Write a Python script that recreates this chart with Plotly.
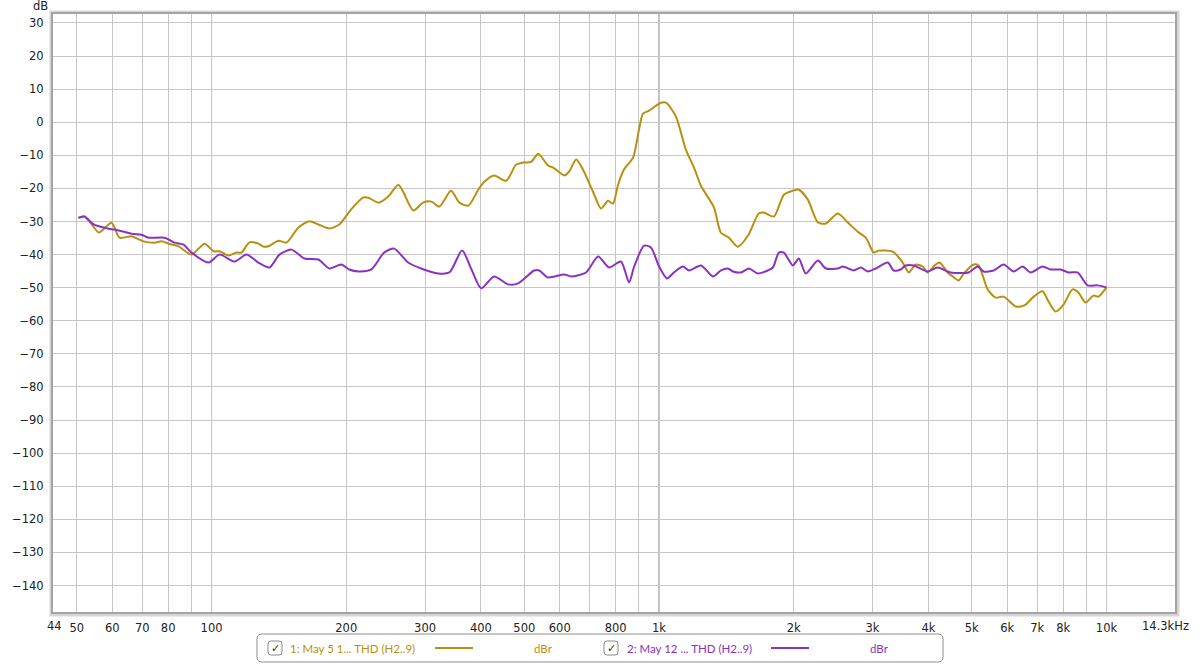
import math
import plotly.graph_objects as go

# ---------------- data ----------------
gold_freq = [50.4, 52, 54, 56, 59.8, 62.3, 66.3, 70.5, 74.6, 77.3, 80.2, 84.4, 90.2, 96.5, 101, 104.2,
             109, 113.7, 116.6, 121.6, 127.3, 130.6, 134, 141, 147, 156.4, 165.4, 173.3, 183.4, 193,
             205, 218, 224, 236, 248, 261.5, 268, 282.5, 297, 310, 323, 343, 358, 375, 394.5, 407,
             428, 455.5, 479.5, 497, 518, 537, 565, 580, 614, 630, 653, 676, 712, 742, 769, 789, 810,
             835, 875, 902, 921, 950, 1010, 1037, 1091, 1148, 1197, 1241, 1327, 1375, 1433, 1500,
             1580, 1671, 1715, 1806, 1901, 1991, 2053, 2151, 2265, 2360, 2509, 2642, 2780, 2898,
             3020, 3097, 3329, 3504, 3614, 3747, 3882, 3985, 4150, 4237, 4415, 4531, 4673, 4820,
             5048, 5179, 5425, 5653, 5889, 6266, 6427, 6595, 6839, 7195, 7422, 7691, 8017, 8396,
             8660, 8977, 9354, 9593, 10000]
gold_db = [-28.9, -28.5, -30.9, -33.3, -30.4, -34.9, -34.5, -36.0, -36.4, -36.0, -36.7, -37.5, -40.0,
           -36.7, -39.0, -39.0, -40.3, -39.4, -39.4, -36.3, -36.7, -37.6, -37.5, -35.8, -36.4, -31.8,
           -29.9, -30.9, -32.1, -30.9, -26.4, -22.8, -22.8, -24.3, -22.5, -18.9, -21.0, -26.7, -24.3,
           -24.0, -25.5, -20.7, -24.3, -25.2, -20.4, -18.0, -16.1, -17.7, -12.8, -12.2, -12.0, -9.5,
           -13.1, -13.7, -16.1, -14.9, -11.3, -14.3, -21.0, -26.1, -23.7, -24.6, -18.9, -14.3, -10.7,
           -2.3, 2.6, 3.5, 5.9, 5.9, 1.7, -8.3, -13.7, -19.2, -25.8, -33.4, -34.9, -37.6, -34.3,
           -27.6, -27.3, -28.5, -21.9, -20.7, -20.4, -23.4, -30.3, -30.6, -27.6, -30.3, -33.1, -34.9,
           -39.4, -38.8, -39.1, -42.4, -45.4, -43.0, -43.6, -45.4, -43.0, -42.4, -45.4, -46.6, -47.8,
           -45.4, -43.0, -43.3, -50.5, -53.0, -52.7, -55.7, -55.7, -55.1, -53.0, -51.1, -54.2, -57.2,
           -55.1, -50.5, -51.5, -54.5, -52.4, -52.7, -49.9]

purple_freq = [50.4, 52, 54.5, 58.6, 62, 66.3, 69.8, 72.3, 78.5, 82.7, 86.6, 90.2, 98.5, 104.2, 112.6,
               119.7, 127.3, 134.7, 141.8, 150.8, 161.3, 173.3, 183.4, 195, 203, 213, 227.5, 243, 256,
               275, 294, 321, 340, 363, 381, 400.6, 428, 460, 484.5, 526, 540, 565, 614, 636, 687, 731,
               773, 822, 857, 880, 926, 960, 1000, 1042, 1080, 1131, 1167, 1241, 1320, 1375, 1426, 1463,
               1524, 1589, 1663, 1750, 1797, 1853, 1901, 1991, 2053, 2128, 2265, 2360, 2509, 2574, 2723,
               2825, 2928, 3051, 3245, 3346, 3468, 3559, 3708, 3985, 4196, 4484, 4920, 5152, 5314, 5596,
               5889, 6200, 6494, 6767, 7195, 7499, 7894, 8226, 8617, 9070, 9549, 10000]
purple_db = [-28.9, -28.5, -30.9, -32.1, -32.7, -33.7, -34.0, -34.9, -34.9, -36.4, -37.0, -39.4, -42.4,
             -40.0, -42.1, -40.0, -42.4, -43.9, -40.0, -38.5, -41.2, -41.5, -44.2, -43.0, -44.5, -45.1,
             -44.5, -39.4, -38.2, -42.4, -44.2, -45.7, -45.4, -38.8, -44.5, -50.2, -46.6, -49.0, -48.7,
             -44.8, -44.8, -46.9, -46.0, -46.6, -45.4, -40.6, -43.9, -42.1, -48.4, -43.6, -37.3, -37.9,
             -43.6, -47.2, -45.4, -43.6, -44.8, -43.3, -46.6, -44.8, -44.2, -45.1, -45.4, -44.2, -45.7,
             -44.8, -43.9, -39.4, -39.4, -43.3, -41.2, -45.7, -41.8, -44.2, -44.2, -43.6, -44.8, -43.9,
             -45.1, -44.2, -42.4, -44.8, -44.5, -43.3, -43.3, -45.1, -43.9, -45.4, -45.4, -43.6, -45.1,
             -44.8, -43.0, -45.1, -43.6, -45.4, -43.6, -44.5, -44.5, -45.4, -45.4, -49.3, -49.3, -49.9]

series_names = ["1: May 5 1... THD (H2..9)", "2: May 12 ... THD (H2..9)"]
series_units = ["dBr", "dBr"]

grid_freqs = [50, 60, 70, 80, 90, 100, 200, 300, 400, 500, 600, 700, 800, 900,
              1000, 2000, 3000, 4000, 5000, 6000, 7000, 8000, 9000, 10000]
grid_labels = ["50", "60", "70", "80", "", "100", "200", "300", "400", "500", "600", "", "800", "",
               "1k", "2k", "3k", "4k", "5k", "6k", "7k", "8k", "", "10k"]
decade_freqs = [100, 1000, 10000]
x_min, x_max = 44, 14300
x_min_label, x_max_label = "44", "14.3kHz"
y_ticks = list(range(-140, 31, 10))
y_range = [-148.3, 33.0]

GOLD = "#B8900E"
PURPLE = "#8A31C1"

W, H = 1200, 664
ML, MR, MT, MB = 52, 24, 13, 51
PW, PH = W - ML - MR, H - MT - MB


def px(x):
    return (x - ML) / PW


def py(y):
    return (H - MB - y) / PH


fig = go.Figure()
fig.add_trace(go.Scatter(x=gold_freq, y=gold_db, mode="lines",
                         line=dict(color=GOLD, width=2, shape="spline", smoothing=0.7),
                         showlegend=False, hoverinfo="skip"))
fig.add_trace(go.Scatter(x=purple_freq, y=purple_db, mode="lines",
                         line=dict(color=PURPLE, width=2, shape="spline", smoothing=0.7),
                         showlegend=False, hoverinfo="skip"))

shapes = []
for f in decade_freqs:
    shapes.append(dict(type="line", xref="x", yref="paper", x0=f, x1=f, y0=0, y1=1,
                       line=dict(color="#7a7a7a", width=1), layer="between"))
shapes.append(dict(type="rect", xref="paper", yref="paper", x0=px(ML - 1), x1=px(W - MR + 2),
                   y0=py(H - MB + 2), y1=py(MT - 1), line=dict(color="#d6d6d6", width=3), layer="above"))
shapes.append(dict(type="rect", xref="paper", yref="paper", x0=0, x1=1, y0=0, y1=1,
                   line=dict(color="#a4a4a4", width=2), layer="above"))

lx0, lx1, ly0, ly1, r = 257, 943, 634, 662, 5
rx, ry = r / PW, r / PH
X0, X1, Y0, Y1 = px(lx0), px(lx1), py(ly0), py(ly1)
path = (f"M {X0+rx},{Y0} L {X1-rx},{Y0} Q {X1},{Y0} {X1},{Y0-ry} L {X1},{Y1+ry} "
        f"Q {X1},{Y1} {X1-rx},{Y1} L {X0+rx},{Y1} Q {X0},{Y1} {X0},{Y1+ry} L {X0},{Y0-ry} "
        f"Q {X0},{Y0} {X0+rx},{Y0} Z")
shapes.append(dict(type="path", xref="paper", yref="paper", path=path,
                   line=dict(color="#8e8e8e", width=1), fillcolor="white"))

annotations = []
legend_y = 648
items = [
    dict(cb=268, text_x=288, line_x0=435, line_x1=473, unit_x=543, color=GOLD),
    dict(cb=604, text_x=625, line_x0=771, line_x1=809, unit_x=879, color=PURPLE),
]
for it, name, unit in zip(items, series_names, series_units):
    cbx0, cbx1 = it["cb"], it["cb"] + 14
    cby0, cby1 = legend_y - 7, legend_y + 7
    cr = 3
    a0, a1, b0, b1 = px(cbx0), px(cbx1), py(cby0), py(cby1)
    crx, cry = cr / PW, cr / PH
    cpath = (f"M {a0+crx},{b0} L {a1-crx},{b0} Q {a1},{b0} {a1},{b0-cry} L {a1},{b1+cry} "
             f"Q {a1},{b1} {a1-crx},{b1} L {a0+crx},{b1} Q {a0},{b1} {a0},{b1+cry} L {a0},{b0-cry} "
             f"Q {a0},{b0} {a0+crx},{b0} Z")
    shapes.append(dict(type="path", xref="paper", yref="paper", path=cpath,
                       line=dict(color="#8a8a8a", width=1), fillcolor="white"))
    annotations.append(dict(x=px(cbx0 + 7), y=py(legend_y), xref="paper", yref="paper", text="✓",
                            showarrow=False, xanchor="center", yanchor="middle",
                            font=dict(family="DejaVu Sans", size=11, color="#333333")))
    annotations.append(dict(x=px(it["text_x"]), y=py(legend_y), xref="paper", yref="paper", text=name,
                            showarrow=False, xanchor="left", yanchor="middle",
                            font=dict(family="Lato", size=11.5, color=it["color"])))
    shapes.append(dict(type="line", xref="paper", yref="paper", x0=px(it["line_x0"]), x1=px(it["line_x1"]),
                       y0=py(legend_y), y1=py(legend_y), line=dict(color=it["color"], width=2)))
    annotations.append(dict(x=px(it["unit_x"]), y=py(legend_y), xref="paper", yref="paper", text=unit,
                            showarrow=False, xanchor="center", yanchor="middle",
                            font=dict(family="Lato", size=11.5, color=it["color"])))

tick_font = dict(family="DejaVu Sans", size=11.5, color="#222222")
annotations.append(dict(x=px(40), y=py(6), xref="paper", yref="paper", text="dB", showarrow=False,
                        xanchor="center", yanchor="middle", font=tick_font))
annotations.append(dict(x=px(54.5), y=py(626), xref="paper", yref="paper", text=x_min_label,
                        showarrow=False, xanchor="center", yanchor="middle", font=tick_font))
annotations.append(dict(x=px(1165), y=py(626), xref="paper", yref="paper", text=x_max_label,
                        showarrow=False, xanchor="center", yanchor="middle", font=tick_font))

fig.update_layout(
    width=W, height=H,
    margin=dict(l=ML, r=MR, t=MT, b=MB, pad=0, autoexpand=False),
    paper_bgcolor="white", plot_bgcolor="white",
    xaxis=dict(type="log", range=[math.log10(x_min), math.log10(x_max)], automargin=False,
               tickvals=grid_freqs, ticktext=grid_labels, showgrid=True, gridcolor="#c6c6c6",
               gridwidth=1, zeroline=False, showline=False, ticks="outside", ticklen=4,
               tickcolor="rgba(0,0,0,0)", tickfont=tick_font),
    yaxis=dict(range=y_range, tickvals=y_ticks, showgrid=True, gridcolor="#c6c6c6", gridwidth=1,
               automargin=False, zeroline=False, showline=False, ticks="outside", ticklen=5,
               tickcolor="rgba(0,0,0,0)", tickfont=tick_font),
    shapes=shapes, annotations=annotations, showlegend=False,
)

fig.write_html("out.html", config={"displayModeBar": False},
               post_script="document.body.style.margin='0';document.body.style.overflow='hidden';")
